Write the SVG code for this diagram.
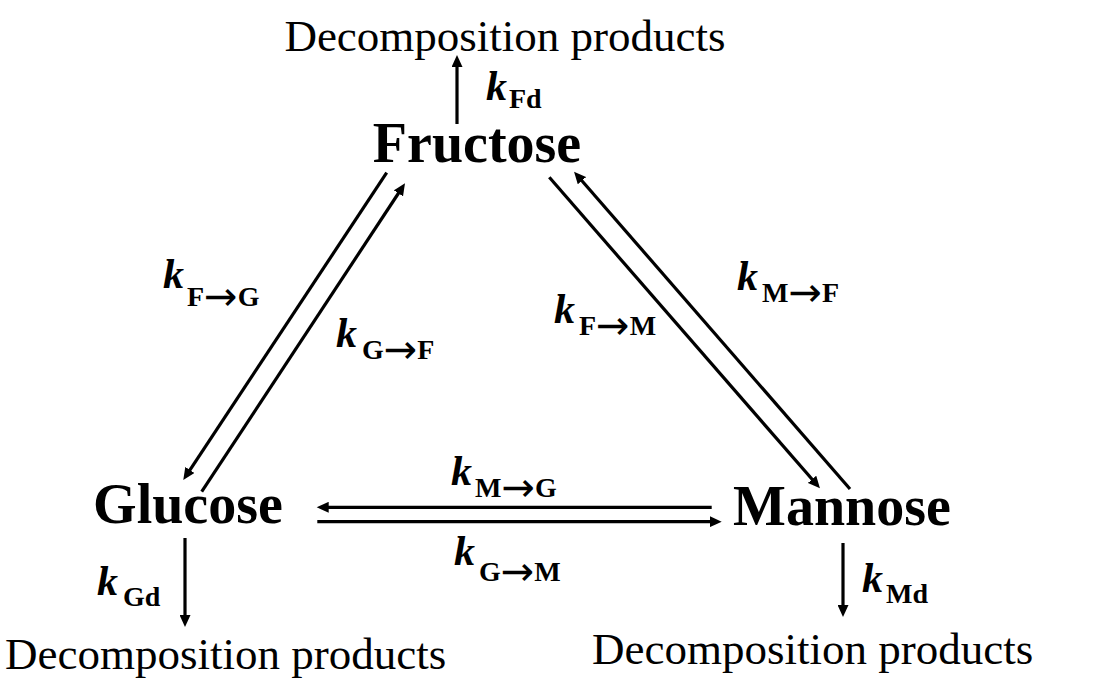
<svg xmlns="http://www.w3.org/2000/svg" width="1097" height="679" viewBox="0 0 1097 679">
<style>
.node{font-family:"Liberation Serif","Times New Roman",serif;font-weight:bold;font-size:56px;fill:#000}
.dp{font-family:"Liberation Serif","Times New Roman",serif;font-size:45px;fill:#000}
.k{font-family:"Liberation Serif","Times New Roman",serif;font-weight:bold;font-style:italic;font-size:42px;fill:#000}
.sub{font-family:"Liberation Serif","Times New Roman",serif;font-weight:bold;font-size:28px;fill:#000}
.ar{font-family:"DejaVu Sans",sans-serif;font-weight:normal;font-size:40px;fill:#000}
.c line{stroke:#000;stroke-width:3.2;fill:none;marker-end:url(#ah)}
</style>
<defs>
<marker id="ah" markerUnits="userSpaceOnUse" markerWidth="13" markerHeight="11" refX="4" refY="5.5" orient="auto">
<path d="M0,0 L12,5.5 L0,11 z" fill="#000"/>
</marker>
</defs>
<rect width="1097" height="679" fill="#fff"/>
<g id="fructose"><text class="node" x="477" y="162" text-anchor="middle">Fructose</text></g>
<g id="glucose"><text class="node" x="188" y="523" text-anchor="middle">Glucose</text></g>
<g id="mannose"><text class="node" x="842" y="525" text-anchor="middle">Mannose</text></g>
<g id="decomp-top"><text class="dp" x="505" y="51" text-anchor="middle">Decomposition products</text></g>
<g id="decomp-left"><text class="dp" x="5" y="669">Decomposition products</text></g>
<g id="decomp-right"><text class="dp" x="592" y="664">Decomposition products</text></g>
<g class="c" id="connectors">
<line x1="457" y1="124" x2="457" y2="63"/>
<line x1="386.7" y1="172.7" x2="187.7" y2="473.3"/>
<line x1="201.7" y1="491.7" x2="400.6" y2="190"/>
<line x1="549.3" y1="177.3" x2="814.7" y2="482.3"/>
<line x1="850" y1="489" x2="579.3" y2="177.7"/>
<line x1="711.7" y1="507.3" x2="324.7" y2="507.3"/>
<line x1="317.3" y1="521.7" x2="713.7" y2="521.7"/>
<line x1="185" y1="538" x2="185" y2="619"/>
<line x1="843" y1="543" x2="843" y2="609"/>
</g>
<g id="labels">
<text x="486" y="100"><tspan class="k">k</tspan><tspan class="sub" x="509" y="108">Fd</tspan></text>
<text x="163" y="288"><tspan class="k">k</tspan><tspan class="sub" x="187" y="306">F</tspan><tspan class="ar" dy="4">→</tspan><tspan class="sub" dy="-4">G</tspan></text>
<text x="336" y="347"><tspan class="k">k</tspan><tspan class="sub" x="362" y="359">G</tspan><tspan class="ar" dy="4">→</tspan><tspan class="sub" dy="-4">F</tspan></text>
<text x="554" y="323"><tspan class="k">k</tspan><tspan class="sub" x="579" y="335">F</tspan><tspan class="ar" dy="4">→</tspan><tspan class="sub" dy="-4">M</tspan></text>
<text x="737" y="290"><tspan class="k">k</tspan><tspan class="sub" x="762" y="302">M</tspan><tspan class="ar" dy="4">→</tspan><tspan class="sub" dy="-4">F</tspan></text>
<text x="451" y="485"><tspan class="k">k</tspan><tspan class="sub" x="475" y="497">M</tspan><tspan class="ar" dy="4">→</tspan><tspan class="sub" dy="-4">G</tspan></text>
<text x="454" y="565"><tspan class="k">k</tspan><tspan class="sub" x="479" y="581">G</tspan><tspan class="ar" dy="4">→</tspan><tspan class="sub" dy="-4">M</tspan></text>
<text x="97" y="595"><tspan class="k">k</tspan><tspan class="sub" x="123" y="606">Gd</tspan></text>
<text x="862" y="592"><tspan class="k">k</tspan><tspan class="sub" x="886" y="603">Md</tspan></text>
</g>
</svg>
